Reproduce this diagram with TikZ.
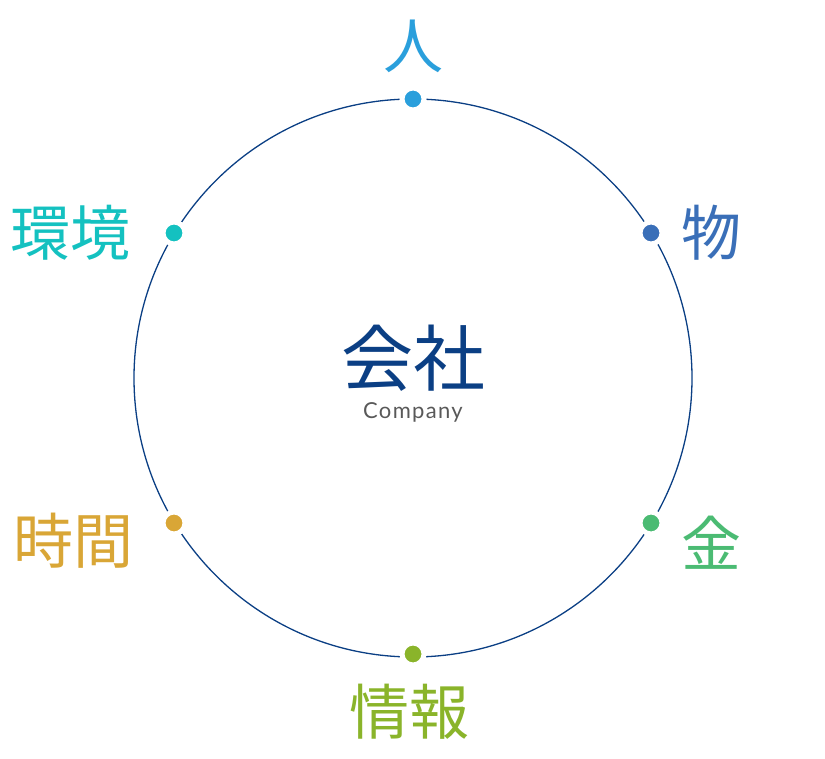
\documentclass[tikz,border=0pt]{standalone}
\usepackage{fontspec}
\newfontfamily\jpfont{Noto Sans CJK JP}
\newfontfamily\latfont[LetterSpace=6]{Lato}
\definecolor{ringblue}{HTML}{0B3F84}
\definecolor{cHito}{HTML}{2A9FDC}
\definecolor{cMono}{HTML}{3A6FB8}
\definecolor{cKane}{HTML}{4BBB73}
\definecolor{cJoho}{HTML}{8AB42A}
\definecolor{cJikan}{HTML}{D9A636}
\definecolor{cKankyo}{HTML}{14C1C0}
\tikzset{
  dot/.style={circle, fill=#1, draw=white, line width=5pt, inner sep=0pt, minimum size=22pt},
  word/.style={text=#1, font=\jpfont\fontsize{60}{60}\selectfont, inner sep=0pt}
}
\begin{document}
\begin{tikzpicture}[x=1pt, y=-1pt]
    \useasboundingbox (0, 0) rectangle (825, 759);
    \node (ring) [circle, draw=ringblue, line width=1.3pt, minimum size=558pt, inner sep=0pt] at(413, 378) {};
    % dots on the ring
    \node (hito) [dot=cHito] at(413, 99) {};
    \node (mono) [dot=cMono] at(651, 233) {};
    \node (kane) [dot=cKane] at(651, 523) {};
    \node (joho) [dot=cJoho] at(413, 654) {};
    \node (jikan) [dot=cJikan] at(174, 523) {};
    \node (kankyo) [dot=cKankyo] at(174, 233) {};
    % labels
    \node (hitoL) [word=cHito] at(413, 46) {人};
    \node (monoL) [word=cMono] at(711, 233) {物};
    \node (kaneL) [word=cKane] at(711, 543) {金};
    \node (johoL) [word=cJoho] at(409, 712) {情報};
    \node (jikanL) [word=cJikan] at(73, 541) {時間};
    \node (kankyoL) [word=cKankyo] at(70, 233) {環境};
    % centre
    \node (kaisha) [word=ringblue, font=\jpfont\fontsize{72}{72}\selectfont] at(413, 358) {会社};
    \node (company) [text=black!65, font=\latfont\fontsize{22}{22}\selectfont, inner sep=0pt] at(413, 412) {Company};
\end{tikzpicture}
\end{document}
